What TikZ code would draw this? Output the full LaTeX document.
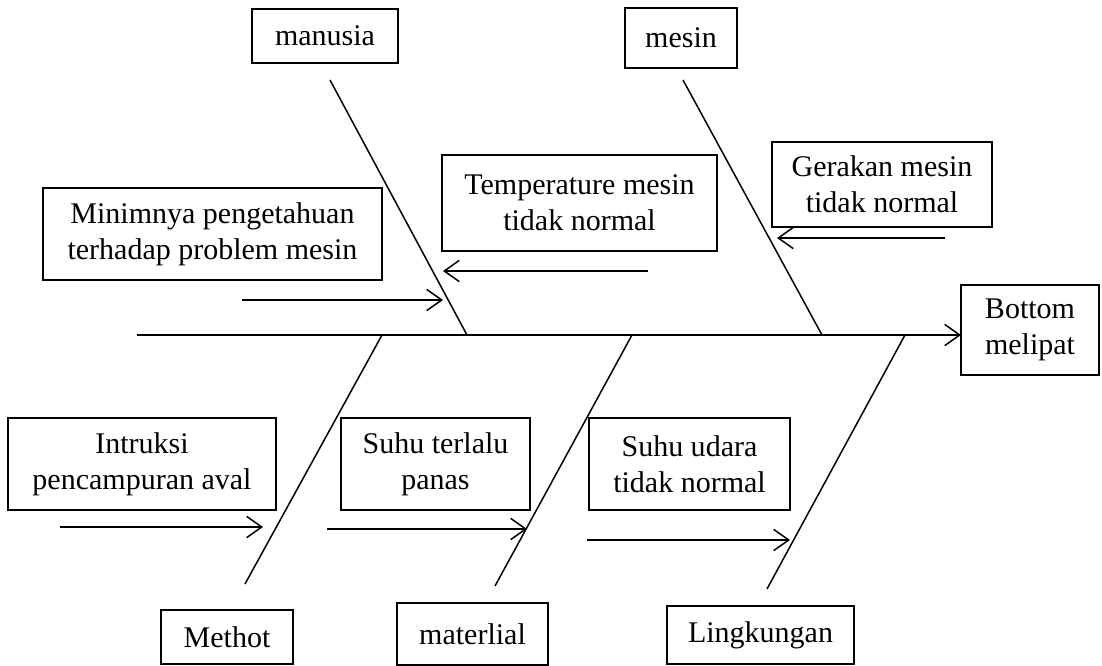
\documentclass[tikz,border=0pt]{standalone}
\usepackage{fontspec}
\setmainfont{Liberation Serif}
\usetikzlibrary{arrows.meta}

\begin{document}
\begin{tikzpicture}[x=0.4pt,y=-0.4pt,every node/.style={draw,outer sep=0pt,line width=0.8pt,align=center,inner sep=0pt,font=\fontsize{12}{14.4}\selectfont}]
\tikzstyle{bone}=[line width=0.6pt]
\tikzstyle{cause}=[line width=0.6pt,-{Straight Barb[length=6pt,width=8.5pt]}]

\useasboundingbox (0,0) rectangle (1102,666);

% kategori dan akibat
\node (manusia) [minimum width=58.4pt,minimum height=21.6pt] at (325,36) {manusia};
\node (mesin) [minimum width=44.8pt,minimum height=24pt] at (681,38) {mesin};
\node (methot) [minimum width=52.8pt,minimum height=21.6pt] at (227,637) {Methot};
\node (materlial) [minimum width=60.4pt,minimum height=24.8pt] at (472.5,634) {materlial};
\node (lingkungan) [minimum width=74.8pt,minimum height=23.2pt] at (760.5,635) {Lingkungan};
\node (effect) [minimum width=55.2pt,minimum height=36pt] at (1030,330) {Bottom\\melipat};

% penyebab
\node (minim) [minimum width=135.6pt,minimum height=36.8pt] at (212.5,234) {Minimnya pengetahuan\\terhadap problem mesin};
\node (temp) [minimum width=110pt,minimum height=38.4pt] at (579.5,203) {Temperature mesin\\tidak normal};
\node (gerak) [minimum width=88pt,minimum height=34pt] at (882,184.5) {Gerakan mesin\\tidak normal};
\node (intruksi) [minimum width=107.2pt,minimum height=36.8pt] at (142,464) {Intruksi\\pencampuran aval};
\node (suhu) [minimum width=75.6pt,minimum height=36.8pt] at (435.5,464) {Suhu terlalu\\panas};
\node (udara) [minimum width=80.4pt,minimum height=36.8pt] at (689.5,464) {Suhu udara\\tidak normal};

% tulang
\coordinate (tail) at (137,335);
\coordinate (manusia top) at (330,80);
\coordinate (manusia end) at (467,335);
\coordinate (mesin top) at (683,80);
\coordinate (mesin end) at (822,335);
\coordinate (methot top) at (382,335);
\coordinate (methot end) at (245,584);
\coordinate (materlial top) at (632,335);
\coordinate (materlial end) at (495,586);
\coordinate (lingkungan top) at (905,335);
\coordinate (lingkungan end) at (767,589);

\draw [cause] (tail) -- (tail -| effect.west);
\draw [bone] (manusia top) -- (manusia end);
\draw [bone] (mesin top) -- (mesin end);
\draw [bone] (methot top) -- (methot end);
\draw [bone] (materlial top) -- (materlial end);
\draw [bone] (lingkungan top) -- (lingkungan end);

% panah penyebab
\coordinate (minim a) at (242,300);
\coordinate (minim b) at (443,300);
\coordinate (temp a) at (648,271);
\coordinate (temp b) at (443,271);
\coordinate (gerak a) at (945,238);
\coordinate (gerak b) at (777,238);
\coordinate (intruksi a) at (60,527);
\coordinate (intruksi b) at (263,527);
\coordinate (suhu a) at (327,529);
\coordinate (suhu b) at (527,529);
\coordinate (udara a) at (587,540);
\coordinate (udara b) at (790,540);

\draw [cause] (minim a) -- (minim b);
\draw [cause] (temp a) -- (temp b);
\draw [cause] (gerak a) -- (gerak b);
\draw [cause] (intruksi a) -- (intruksi b);
\draw [cause] (suhu a) -- (suhu b);
\draw [cause] (udara a) -- (udara b);
\end{tikzpicture}
\end{document}
